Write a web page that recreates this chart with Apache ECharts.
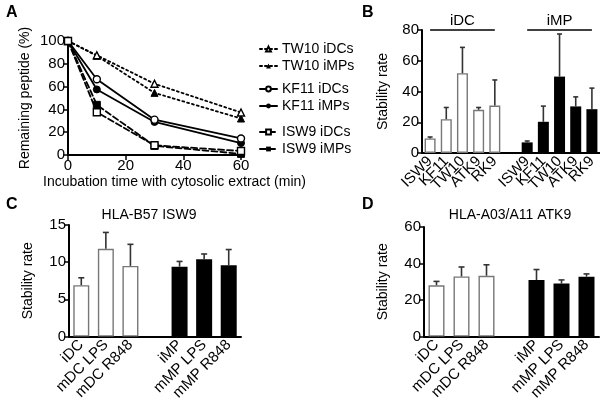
<!DOCTYPE html>
<html>
<head>
<meta charset="utf-8">
<script src="https://cdn.jsdelivr.net/npm/echarts@6/dist/echarts.min.js"></script>
<style>
  html, body { margin: 0; padding: 0; background: #fff; }
  #chart { width: 600px; height: 403px; }
</style>
</head>
<body>
<div id="chart"></div>
<script>
// panel A: degradation kinetics
const timeMin = [0, 10, 30, 60];
const tw10DC = [100, 87.5, 62.5, 37.3];
const tw10MP = [100, 87.0, 54.5, 32.0];
const kf11DC = [100, 66.5, 31.0, 14.5];
const kf11MP = [100, 57.5, 29.0, 10.5];
const isw9DC = [100, 37.5, 8.5, 3.5];
const isw9MP = [100, 44.0, 8.0, 1.0];

// panel B: stability rate per peptide (mean and mean+SD)
const bPeptides = ["ISW9", "KF11", "TW10", "ATK9", "RK9"];
const bDC = [9.5, 22.0, 51.9, 28.1, 30.9];
const bDCTop = [10.4, 29.6, 68.7, 29.6, 47.5];
const bMP = [6.9, 20.3, 49.7, 30.3, 28.5];
const bMPTop = [7.8, 30.5, 77.4, 36.5, 42.2];

// panels C and D: cell conditions
const dcConds = ["iDC", "mDC LPS", "mDC R848"];
const mpConds = ["iMP", "mMP LPS", "mMP R848"];
const cDC = [6.9, 11.8, 9.5];
const cDCTop = [7.9, 14.0, 12.4];
const cMP = [9.4, 10.4, 9.6];
const cMPTop = [10.1, 11.1, 11.7];
const dDC = [28.1, 32.9, 33.3];
const dDCTop = [30.2, 38.1, 39.3];
const dMP = [30.9, 29.0, 32.8];
const dMPTop = [36.7, 31.0, 34.3];

const FONT = "Liberation Sans, Arial, sans-serif";
const txt = { color: "#000", fontFamily: FONT, fontSize: 14 };

// categories: dc group, one blank slot, mp group (keys kept unique)
function cats(a, b) {
  return a.map(s => "d|" + s).concat(["gap|"], b.map(s => "m|" + s));
}
function padDC(vals, n) { return vals.concat(Array(n + 1).fill("-")); }
function padMP(vals, n) { return Array(n + 1).fill("-").concat(vals); }

function errData(dc, dcTop, mp, mpTop) {
  let out = [];
  dc.forEach((v, i) => out.push([i, v, dcTop[i]]));
  mp.forEach((v, i) => out.push([dc.length + 1 + i, v, mpTop[i]]));
  return out;
}

function errSeries(idx, data, capW) {
  return {
    type: "custom",
    xAxisIndex: idx,
    yAxisIndex: idx,
    z: 5,
    data: data,
    encode: { x: 0, y: [1, 2] },
    renderItem: function(params, api) {
      let x = api.value(0);
      let lo = api.coord([x, api.value(1)]);
      let hi = api.coord([x, api.value(2)]);
      let st = { stroke: "#333", lineWidth: 1.6 };
      return {
        type: "group",
        children: [
          { type: "line", shape: { x1: lo[0], y1: lo[1], x2: hi[0], y2: hi[1] }, style: st },
          { type: "line", shape: { x1: hi[0] - capW / 2, y1: hi[1], x2: hi[0] + capW / 2, y2: hi[1] }, style: st }
        ]
      };
    }
  };
}

function barPair(idx, dc, mp, n, w) {
  return [
    {
      type: "bar", xAxisIndex: idx, yAxisIndex: idx, stack: "s" + idx, barWidth: w,
      data: padDC(dc, n),
      itemStyle: { color: "#fff", borderColor: "#777", borderWidth: 1.4 }
    },
    {
      type: "bar", xAxisIndex: idx, yAxisIndex: idx, stack: "s" + idx, barWidth: w,
      data: padMP(mp, n),
      itemStyle: { color: "#000" }
    }
  ];
}

function catAxis(idx, data) {
  return {
    type: "category", gridIndex: idx, data: data,
    axisLine: { lineStyle: { color: "#000", width: 2 } },
    axisTick: { show: false },
    axisLabel: Object.assign({ rotate: 45, margin: 6, interval: 0, formatter: v => v.split("|")[1] }, txt, { fontSize: 15 })
  };
}

function valAxis(idx, max, step, gap, name) {
  return {
    type: "value", gridIndex: idx, min: 0, max: max, interval: step,
    name: name, nameLocation: "middle", nameGap: gap, nameTextStyle: txt,
    splitLine: { show: false },
    axisLine: { show: true, lineStyle: { color: "#000", width: 2 } },
    axisTick: { show: true, length: 5, lineStyle: { color: "#000", width: 1.5 } },
    axisLabel: Object.assign({ margin: 3 }, txt, { fontSize: 15 })
  };
}

function kinLine(name, vals, dash, sym, open) {
  return {
    name: name, type: "line", xAxisIndex: 0, yAxisIndex: 0,
    data: timeMin.map((t, i) => [t, vals[i]]),
    symbol: sym, symbolSize: 7, showSymbol: true,
    lineStyle: { color: "#000", width: 1.8, type: dash, cap: "round" },
    itemStyle: open ? { color: "#fff", borderColor: "#000", borderWidth: 1.4 } : { color: "#000", borderColor: "#000" },
    z: open ? 3 : 2
  };
}

function legendBox(names, top) {
  return {
    data: names, orient: "vertical", left: 254, top: top, itemGap: 3,
    itemWidth: 17, itemHeight: 6, textStyle: txt, selectedMode: false
  };
}

let chart = echarts.init(document.getElementById("chart"));
let option = {
  animation: false,
  backgroundColor: "#fff",
  title: [
    { text: "A", left: 1, top: 0, textStyle: { fontFamily: FONT, fontSize: 16, fontWeight: "bold", color: "#000" } },
    { text: "B", left: 357, top: 0, textStyle: { fontFamily: FONT, fontSize: 16, fontWeight: "bold", color: "#000" } },
    { text: "C", left: 1, top: 192, textStyle: { fontFamily: FONT, fontSize: 16, fontWeight: "bold", color: "#000" } },
    { text: "D", left: 357, top: 192, textStyle: { fontFamily: FONT, fontSize: 16, fontWeight: "bold", color: "#000" } },
    { text: "HLA-B57 ISW9", left: 144, top: 203, textAlign: "center", textStyle: Object.assign({ fontWeight: "normal" }, txt) },
    { text: "HLA-A03/A11 ATK9", left: 505, top: 203, textAlign: "center", textStyle: Object.assign({ fontWeight: "normal" }, txt) }
  ],
  legend: [
    legendBox(["TW10 iDCs", "TW10 iMPs"], 37),
    legendBox(["KF11 iDCs", "KF11 iMPs"], 77),
    legendBox(["ISW9 iDCs", "ISW9 iMPs"], 120)
  ],
  grid: [
    { left: 68, top: 41, width: 173, height: 114 },
    { left: 422, top: 30, width: 178, height: 123 },
    { left: 69, top: 225, width: 172, height: 118 },
    { left: 424, top: 227, width: 175, height: 116 }
  ],
  xAxis: [
    {
      type: "value", gridIndex: 0, min: 0, max: 60, interval: 20,
      name: "Incubation time with cytosolic extract (min)", nameLocation: "middle", nameGap: 20,
      nameTextStyle: Object.assign({ padding: [0, 0, 0, 40] }, txt),
      splitLine: { show: false },
      axisLine: { lineStyle: { color: "#000", width: 2 } },
      axisTick: { length: 5, lineStyle: { color: "#000", width: 1.5 } },
      axisLabel: Object.assign({ margin: 3 }, txt, { fontSize: 15 })
    },
    catAxis(1, cats(bPeptides, bPeptides)),
    catAxis(2, cats(dcConds, mpConds)),
    catAxis(3, cats(dcConds, mpConds))
  ],
  yAxis: [
    valAxis(0, 100, 20, 36, "Remaining peptide (%)"),
    valAxis(1, 80, 20, 32, "Stability rate"),
    valAxis(2, 15, 5, 34, "Stability rate"),
    valAxis(3, 60, 20, 34, "Stability rate")
  ],
  series: [
    kinLine("TW10 iDCs", tw10DC, [2, 3], "triangle", true),
    kinLine("TW10 iMPs", tw10MP, [2, 3], "triangle", false),
    kinLine("KF11 iDCs", kf11DC, "solid", "circle", true),
    kinLine("KF11 iMPs", kf11MP, "solid", "circle", false),
    kinLine("ISW9 iDCs", isw9DC, [6, 3], "rect", true),
    kinLine("ISW9 iMPs", isw9MP, [6, 3], "rect", false)
  ]
    .concat(barPair(1, bDC, bMP, bPeptides.length, 11))
    .concat([errSeries(1, errData(bDC, bDCTop, bMP, bMPTop), 5)])
    .concat(barPair(2, cDC, cMP, dcConds.length, 16))
    .concat([errSeries(2, errData(cDC, cDCTop, cMP, cMPTop), 6)])
    .concat(barPair(3, dDC, dMP, dcConds.length, 16))
    .concat([errSeries(3, errData(dDC, dDCTop, dMP, dMPTop), 6)])
};

// group brackets over panel B
option.series[6].markLine = {
  symbol: "none", silent: true,
  lineStyle: { color: "#000", width: 1.5, type: "solid" },
  label: { position: "insideMiddleTop", distance: 2, fontFamily: FONT, fontSize: 15, color: "#000" },
  data: [
    [{ coord: [0, 80], label: { formatter: "iDC" } }, { coord: [4, 80] }],
    [{ coord: [6, 80], label: { formatter: "iMP" } }, { coord: [10, 80] }]
  ]
};

chart.setOption(option);
window.addEventListener("resize", function() {
  chart.resize();
});
</script>
</body>
</html>
